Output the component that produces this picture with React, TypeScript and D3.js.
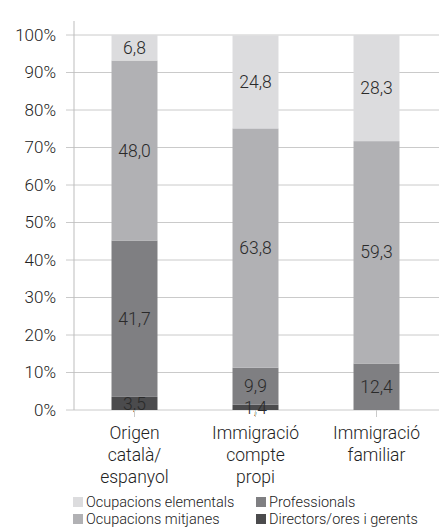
import React from 'react'
import * as d3 from 'd3'

const categories = ['Origen català/ espanyol', 'Immigració compte propi', 'Immigració familiar']
const categoryLines = [
  ['Origen', 'català/', 'espanyol'],
  ['Immigració', 'compte', 'propi'],
  ['Immigració', 'familiar'],
]
const seriesNames = ['Directors/ores i gerents', 'Professionals', 'Ocupacions mitjanes', 'Ocupacions elementals']
const directors = [3.5, 1.4, 0]
const professionals = [41.7, 9.9, 12.4]
const mitjanes = [48.0, 63.8, 59.3]
const elementals = [6.8, 24.8, 28.3]
const yTicks = [0, 10, 20, 30, 40, 50, 60, 70, 80, 90, 100]

const colors = ['#4b4b4d', '#7f7f82', '#b1b1b4', '#dcdcde']
const font = 'Roboto, "Liberation Sans", sans-serif'

const width = 439
const height = 528
const margin = { top: 35, left: 74, bottom: 118, right: 2 }

const App: React.FunctionComponent = () => {
  const rows = categories.map((c, i) => ({
    cat: c,
    directors: directors[i],
    professionals: professionals[i],
    mitjanes: mitjanes[i],
    elementals: elementals[i],
  }))
  const keys = ['directors', 'professionals', 'mitjanes', 'elementals']
  const stack = d3.stack<any>().keys(keys)(rows)

  const x = d3
    .scaleBand()
    .domain(categories)
    .range([margin.left, width - margin.right])
    .paddingInner(0.62)
    .paddingOuter(0.31)
  const y = d3
    .scaleLinear()
    .domain([0, 100])
    .range([height - margin.bottom, margin.top])

  const legend = [
    { name: seriesNames[3], color: colors[3], lx: 73, ly: 502 },
    { name: seriesNames[2], color: colors[2], lx: 73, ly: 519 },
    { name: seriesNames[1], color: colors[1], lx: 256, ly: 502 },
    { name: seriesNames[0], color: colors[0], lx: 256, ly: 519 },
  ]

  return (
    <svg width={width} height={height} style={{ position: 'absolute', left: 0, top: 0 }} fontFamily={font}>
      {yTicks.map(t => (
        <g key={t}>
          <line x1={margin.left - 8} x2={width} y1={y(t)} y2={y(t)} stroke="#cacaca" strokeWidth={1} />
          <text x={56} y={y(t)} dy="0.35em" textAnchor="end" fontSize={17} fontWeight={300} fill="#222">
            {t}%
          </text>
        </g>
      ))}
      <line x1={margin.left} x2={margin.left} y1={margin.top - 14} y2={y(0)} stroke="#bdbdbd" />
      {stack.map((s, si) =>
        s.map((d, i) => (
          <rect
            key={si + '-' + i}
            x={x(categories[i])}
            width={x.bandwidth()}
            y={y(d[1])}
            height={y(d[0]) - y(d[1])}
            fill={colors[si]}
          />
        ))
      )}
      {stack.map((s, si) =>
        s.map((d, i) =>
          d[1] - d[0] > 0 ? (
            <text
              key={'l' + si + '-' + i}
              x={(x(categories[i]) || 0) + x.bandwidth() / 2}
              y={(y(d[0]) + y(d[1])) / 2}
              dy="0.35em"
              textAnchor="middle"
              fontSize={17.5}
              fontWeight={300}
              fill="#2a2a2a"
            >
              {(d[1] - d[0]).toFixed(1).replace('.', ',')}
            </text>
          ) : null
        )
      )}
      {categories.map((c, i) => {
        const cx = (x(c) || 0) + x.bandwidth() / 2
        return (
          <g key={c}>
            <line x1={cx} x2={cx} y1={y(0)} y2={y(0) + 7} stroke="#cacaca" />
            {categoryLines[i].map((l, li) => (
              <text key={li} x={cx} y={433 + li * 22} dy="0.35em" textAnchor="middle" fontSize={17.5} fontWeight={300} fill="#222">
                {l}
              </text>
            ))}
          </g>
        )
      })}
      {legend.map(l => (
        <g key={l.name}>
          <rect x={l.lx} y={l.ly - 5} width={10} height={10} fill={l.color} />
          <text x={l.lx + 13} y={l.ly} dy="0.35em" fontSize={14.5} fontWeight={300} fill="#222">
            {l.name}
          </text>
        </g>
      ))}
    </svg>
  )
}

export default App
